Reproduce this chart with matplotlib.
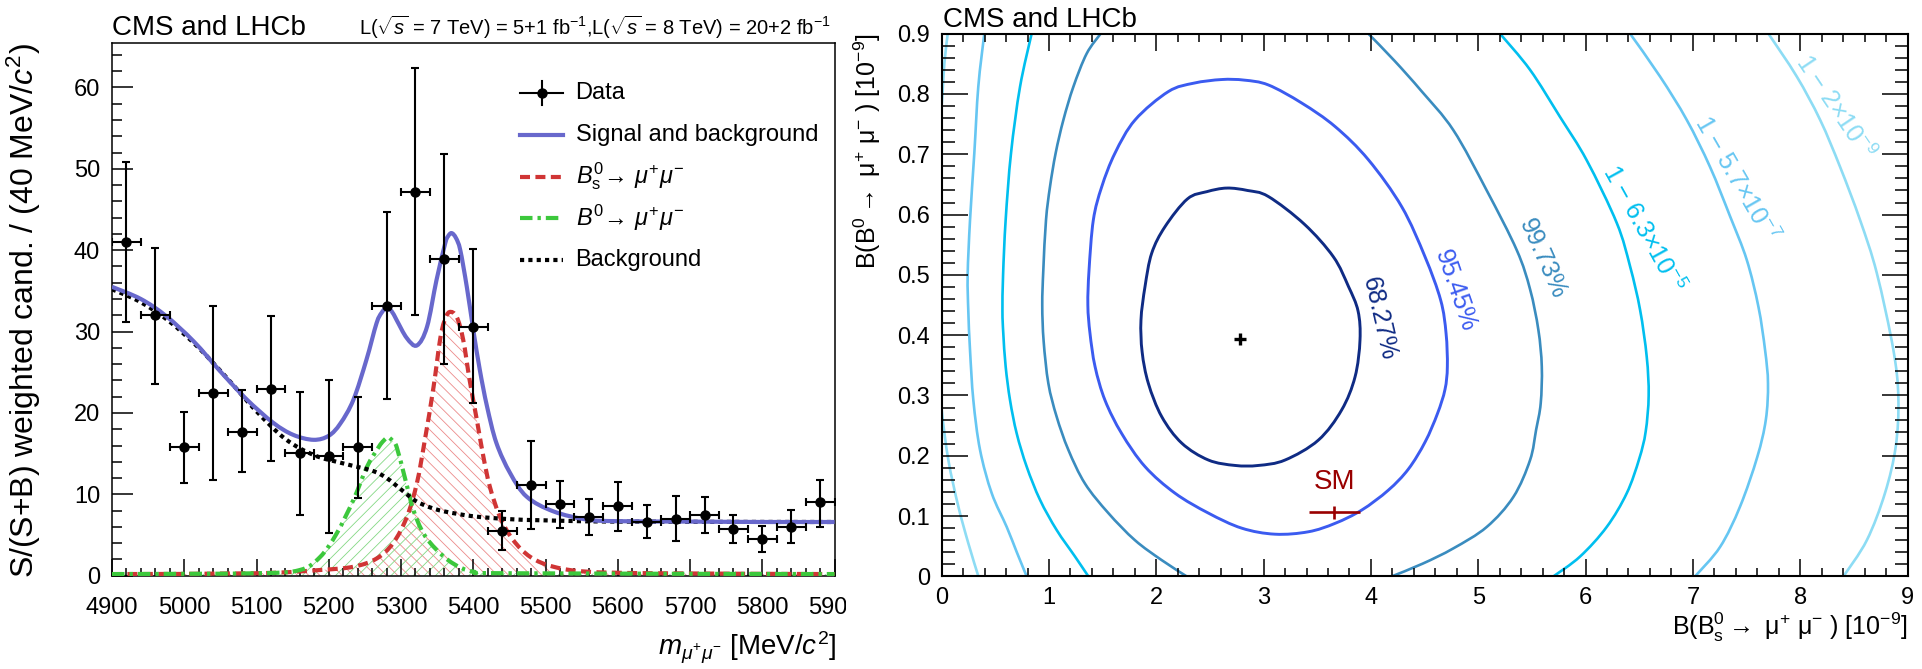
import matplotlib
matplotlib.use("Agg")
import matplotlib.pyplot as plt
from matplotlib.ticker import MultipleLocator
from matplotlib.transforms import Bbox, TransformedBbox
from matplotlib.path import Path
from matplotlib.patches import PathPatch

plt.rcParams['font.family'] = ['Liberation Sans', 'DejaVu Sans']
plt.rcParams['mathtext.fontset'] = 'custom'
plt.rcParams['mathtext.rm'] = 'Liberation Sans'
plt.rcParams['mathtext.it'] = 'Liberation Sans:italic'
plt.rcParams['mathtext.bf'] = 'Liberation Sans:bold'
plt.rcParams['mathtext.sf'] = 'Liberation Sans'
plt.rcParams['hatch.linewidth'] = 0.6

# ---------------- left panel: mass distribution ----------------
mass_bins = [4920, 4960, 5000, 5040, 5080, 5120, 5160, 5200, 5240, 5280, 5320, 5360, 5400,
             5440, 5480, 5520, 5560, 5600, 5640, 5680, 5720, 5760, 5800, 5840, 5880]
counts = [41.0, 32.0, 15.8, 22.4, 17.7, 23.0, 15.1, 14.7, 15.8, 33.2, 47.1, 38.9, 30.6,
          5.5, 11.1, 8.8, 7.2, 8.6, 6.6, 7.0, 7.5, 5.7, 4.5, 6.0, 9.0]
err_up = [9.9, 8.3, 4.3, 10.7, 5.1, 8.9, 7.5, 9.4, 6.1, 11.5, 15.3, 12.9, 9.5,
          2.4, 5.4, 2.8, 2.2, 2.9, 2.1, 2.8, 2.2, 1.8, 1.6, 2.1, 2.8]
err_dn = [9.8, 8.4, 4.4, 10.7, 5.0, 8.9, 7.6, 9.4, 6.2, 11.5, 15.1, 12.9, 9.4,
          2.4, 5.3, 2.9, 2.2, 3.1, 2.0, 2.7, 2.3, 1.7, 1.6, 2.0, 3.0]
bin_half_width = 20

total_x = [4900, 4940, 4975, 5013, 5050, 5086, 5123, 5151, 5179, 5200, 5216, 5234, 5252,
           5266, 5273, 5280, 5287, 5294, 5308, 5322, 5336, 5349, 5361, 5365, 5370, 5376,
           5382, 5391, 5400, 5409, 5419, 5432, 5451, 5474, 5511, 5557, 5600, 5700, 5800, 5900]
total_y = [35.5, 34.0, 31.9, 28.8, 25.1, 21.7, 18.8, 17.3, 16.7, 17.2, 18.7, 21.6, 26.5,
           31.0, 32.3, 32.9, 32.5, 31.4, 29.2, 28.3, 30.6, 36.3, 40.8, 41.7, 42.1, 41.5,
           40.0, 35.5, 30.2, 25.3, 20.8, 16.3, 12.6, 9.7, 7.9, 6.9, 6.7, 6.65, 6.6, 6.6]

bs_x = [4900, 5100, 5188, 5234, 5266, 5289, 5308, 5322, 5333, 5345, 5354, 5360, 5367,
        5377, 5386, 5395, 5405, 5414, 5423, 5437, 5455, 5479, 5511, 5557, 5650, 5900]
bs_y = [0.2, 0.3, 0.7, 1.1, 2.1, 4.0, 7.2, 11.4, 16.7, 23.2, 29.0, 31.3, 32.4,
        31.8, 29.0, 24.0, 19.1, 14.6, 10.9, 7.2, 4.4, 2.3, 1.1, 0.5, 0.3, 0.2]

bd_x = [4900, 5100, 5160, 5188, 5211, 5234, 5253, 5269, 5276, 5282, 5288, 5294, 5306,
        5317, 5331, 5349, 5372, 5400, 5450, 5900]
bd_y = [0.2, 0.3, 0.7, 2.3, 5.2, 9.3, 13.4, 15.8, 16.6, 17.0, 16.6, 15.8, 11.8,
        8.1, 5.2, 3.2, 1.5, 0.5, 0.3, 0.2]

bkg_x = [4900, 4940, 4980, 5020, 5060, 5100, 5140, 5180, 5220, 5260, 5280, 5300, 5320,
         5340, 5360, 5400, 5450, 5500, 5600, 5900]
bkg_y = [35.2, 33.6, 31.2, 28.0, 24.2, 20.2, 16.8, 14.8, 13.8, 12.9, 12.0, 10.6, 9.2,
         8.4, 7.9, 7.3, 6.95, 6.8, 6.65, 6.6]

mass_ticks = [4900, 5000, 5100, 5200, 5300, 5400, 5500, 5600, 5700, 5800, 5900]

legend_labels = ["Data", "Signal and background", r"$B^0_{\rm s}\!\rightarrow\,\mu^{+}\mu^{-}$",
                 r"$B^0\!\rightarrow\,\mu^{+}\mu^{-}$", "Background"]

# ---------------- right panel: likelihood contours ----------------
c68_bs = [2.656, 2.470, 2.290, 2.081, 1.957, 1.895, 1.857, 1.868, 1.926, 2.050, 2.237,
          2.485, 2.734, 2.951, 3.200, 3.510, 3.727, 3.852, 3.898, 3.880, 3.790, 3.650, 3.380,
          3.044, 2.850, 2.656]
c68_b0 = [0.644, 0.638, 0.626, 0.580, 0.536, 0.481, 0.425, 0.372, 0.320, 0.265, 0.221,
          0.193, 0.184, 0.184, 0.193, 0.226, 0.276, 0.331, 0.392, 0.440, 0.481, 0.530, 0.584,
          0.630, 0.640, 0.644]

c95_bs = [2.609, 2.350, 2.112, 1.802, 1.615, 1.491, 1.413, 1.373, 1.362, 1.382, 1.429, 1.522,
          1.677, 1.895, 2.174, 2.485, 2.796, 3.106, 3.417, 3.666, 3.914, 4.162, 4.349, 4.505,
          4.620, 4.690, 4.712, 4.700, 4.650, 4.504, 4.287, 3.976, 3.666, 3.355, 3.044, 2.820,
          2.609]
c95_b0 = [0.824, 0.818, 0.804, 0.757, 0.702, 0.646, 0.591, 0.508, 0.450, 0.403, 0.348, 0.292,
          0.237, 0.182, 0.138, 0.105, 0.080, 0.070, 0.074, 0.088, 0.110, 0.143, 0.178, 0.223,
          0.270, 0.310, 0.348, 0.403, 0.458, 0.530, 0.613, 0.691, 0.746, 0.785, 0.815, 0.823,
          0.824]

c997_left_bs = [1.481, 1.351, 1.227, 1.134, 1.062, 1.009, 0.972, 0.947, 0.937, 0.950, 0.994,
                1.071, 1.180, 1.335, 1.553, 1.801, 2.050, 2.283]
c997_left_b0 = [0.900, 0.867, 0.812, 0.757, 0.702, 0.646, 0.591, 0.508, 0.450, 0.390, 0.320,
                0.265, 0.210, 0.154, 0.105, 0.060, 0.027, 0.000]
c997_right_bs = [3.976, 4.220, 4.470, 4.768, 5.079, 5.359, 5.483, 5.560, 5.592, 5.582,
                 5.539, 5.483, 5.328, 5.079, 4.768, 4.480, 4.193]
c997_right_b0 = [0.900, 0.855, 0.805, 0.740, 0.640, 0.541, 0.476, 0.409, 0.348, 0.287,
                 0.243, 0.193, 0.132, 0.082, 0.0465, 0.021, 0.000]

c5s_left_bs = [0.838, 0.730, 0.646, 0.596, 0.572, 0.566, 0.574, 0.596, 0.637, 0.699, 0.792,
               0.916, 1.071, 1.242, 1.367]
c5s_left_b0 = [0.900, 0.812, 0.702, 0.591, 0.500, 0.440, 0.403, 0.348, 0.292, 0.237, 0.182,
               0.127, 0.077, 0.033, 0.000]
c5s_right_bs = [5.203, 5.483, 5.762, 6.011, 6.291, 6.415, 6.508, 6.570, 6.588, 6.560,
                6.500, 6.384, 6.197, 5.949, 5.700]
c5s_right_b0 = [0.900, 0.840, 0.762, 0.690, 0.586, 0.514, 0.442, 0.364, 0.300, 0.240,
                0.195, 0.138, 0.082, 0.033, 0.000]

c6s_left_bs = [0.397, 0.341, 0.304, 0.264, 0.242, 0.248, 0.264, 0.295, 0.357, 0.466, 0.606,
               0.700, 0.792]
c6s_left_b0 = [0.900, 0.812, 0.702, 0.591, 0.500, 0.440, 0.375, 0.292, 0.210, 0.138, 0.082,
               0.040, 0.000]
c6s_right_bs = [6.415, 6.694, 6.943, 7.160, 7.347, 7.502, 7.611, 7.673, 7.700, 7.680,
                7.600, 7.440, 7.254, 7.020]
c6s_right_b0 = [0.900, 0.829, 0.757, 0.679, 0.597, 0.525, 0.447, 0.375, 0.320, 0.260,
                0.198, 0.116, 0.049, 0.000]

c7s_left_bs = [0.056, 0.025, 0.006, -0.030, -0.040, -0.030, 0.000, 0.062, 0.155, 0.248, 0.342]
c7s_left_b0 = [0.900, 0.851, 0.796, 0.700, 0.500, 0.350, 0.276, 0.193, 0.116, 0.055, 0.000]
c7s_right_bs = [7.704, 7.968, 8.186, 8.372, 8.558, 8.714, 8.869, 8.915, 8.890, 8.790,
                8.621, 8.403]
c7s_right_b0 = [0.900, 0.829, 0.757, 0.679, 0.591, 0.503, 0.375, 0.295, 0.215, 0.138,
                0.060, 0.000]

contour_labels = ["68.27%", "95.45%", "99.73%", "1 − 6.3×10$^{-5}$", "1 − 5.7×10$^{-7}$",
                  "1 − 2×10$^{-9}$"]
label_pos_bs = [4.08, 4.79, 5.60, 6.54, 7.40, 8.325]
label_pos_b0 = [0.427, 0.474, 0.526, 0.577, 0.660, 0.779]
label_angle = [-77, -71, -66, -61, -60, -56]

bestfit_bs = [2.78]
bestfit_b0 = [0.393]
sm_bs = [3.66]
sm_b0 = [0.106]
sm_bs_err = [0.24]
sm_b0_err = [0.010]

c_68 = '#0f2b84'
c_95 = '#3b5bf0'
c_997 = '#3a8cbf'
c_5s = '#00bfef'
c_6s = '#66c6f2'
c_7s = '#8ddcf4'


def smooth_path(xs, ys, base=None):
    """Smooth (Catmull-Rom as cubic Bezier) path through the read-off points."""
    pts = list(zip(xs, ys))
    n = len(pts)
    closed = pts[0] == pts[-1]
    verts = [pts[0]]
    codes = [Path.MOVETO]
    for i in range(n - 1):
        if i > 0:
            p0 = pts[i - 1]
        else:
            p0 = pts[-2] if closed else pts[0]
        p1, p2 = pts[i], pts[i + 1]
        if i + 2 < n:
            p3 = pts[i + 2]
        else:
            p3 = pts[1] if closed else pts[-1]
        c1 = (p1[0] + (p2[0] - p0[0]) / 6.0, p1[1] + (p2[1] - p0[1]) / 6.0)
        c2 = (p2[0] - (p3[0] - p1[0]) / 6.0, p2[1] - (p3[1] - p1[1]) / 6.0)
        verts += [c1, c2, p2]
        codes += [Path.CURVE4] * 3
    if base is not None:
        verts += [(pts[-1][0], base), (pts[0][0], base), (pts[0][0], base)]
        codes += [Path.LINETO, Path.LINETO, Path.CLOSEPOLY]
    return Path(verts, codes)


def curve(ax, xs, ys, **kw):
    patch = PathPatch(smooth_path(xs, ys), facecolor='none', **kw)
    ax.add_patch(patch)
    return patch


def hatch_area(ax, xs, ys, color, hatch):
    patch = PathPatch(smooth_path(xs, ys, base=0.0), facecolor='none', edgecolor=color,
                      hatch=hatch, linewidth=0, zorder=1)
    ax.add_patch(patch)


# ---------------- figure ----------------
W, H = 1922, 669
fig = plt.figure(figsize=(W / 100, H / 100), dpi=100)
fig.patch.set_facecolor('white')

ax1 = fig.add_axes([112 / W, (H - 575.7) / H, 722.6 / W, 533 / H])
ax2 = fig.add_axes([941.7 / W, (H - 576.4) / H, 965.8 / W, 542.7 / H])

# ---- left panel ----
col_tot, col_bs, col_bd, col_bkg = '#6868cc', '#d03535', '#3cc83c', 'black'
dash_bs, dash_bd, dash_bkg = (2.4, 1.3), (3.0, 1.2, 0.8, 1.2), (1, 1)

hatch_area(ax1, bs_x, bs_y, '#ec8a8a', '\\\\\\')
hatch_area(ax1, bd_x, bd_y, '#84d884', '///')
curve(ax1, bs_x, bs_y, edgecolor=col_bs, lw=3, linestyle=(0, dash_bs), zorder=3)
curve(ax1, bd_x, bd_y, edgecolor=col_bd, lw=3, linestyle=(0, dash_bd), zorder=3)
curve(ax1, bkg_x, bkg_y, edgecolor=col_bkg, lw=3, linestyle=(0, dash_bkg), zorder=3)
curve(ax1, total_x, total_y, edgecolor=col_tot, lw=3, zorder=4)
ax1.errorbar(mass_bins, counts, xerr=bin_half_width, yerr=[err_dn, err_up], fmt='o',
             color='black', ms=6.5, elinewidth=1.5, capsize=3, capthick=1.5, zorder=5)

ax1.set_xlim(4900, 5900)
ax1.set_ylim(0, 65.5)
ax1.set_xticks(mass_ticks)
ax1.xaxis.set_minor_locator(MultipleLocator(20))
ax1.yaxis.set_major_locator(MultipleLocator(10))
ax1.yaxis.set_minor_locator(MultipleLocator(2))
ax1.tick_params(which='both', direction='in', top=False, right=False, width=1.1)
ax1.tick_params(axis='x', which='major', length=12.5, pad=15, labelsize=17)
ax1.tick_params(axis='x', which='minor', length=6)
ax1.tick_params(axis='y', which='major', length=15, pad=8.6, labelsize=17)
ax1.tick_params(axis='y', which='minor', length=7.2)
for s in ax1.spines.values():
    s.set_linewidth(1.1)

ax1.text(0.0, 1.0144, 'CMS and LHCb', transform=ax1.transAxes, fontsize=20,
         ha='left', va='baseline')
ax1.text(0.995, 1.0144,
         r'L($\sqrt{s}$ = 7 TeV) = 5+1 fb$^{-1}$,L($\sqrt{s}$ = 8 TeV) = 20+2 fb$^{-1}$',
         transform=ax1.transAxes, fontsize=14.5, ha='right', va='baseline')
ax1.text(-0.0955, 1.0, r'S/(S+B) weighted cand. / (40 MeV/$c^{2}$)', transform=ax1.transAxes,
         rotation=90, ha='right', va='top', fontsize=23)
ax1.text(1.0019, -0.1488, r'$m_{\mu^{+}\mu^{-}}$ [MeV/$c^{2}$]', transform=ax1.transAxes,
         ha='right', va='baseline', fontsize=20)

# legend (drawn by hand to keep ROOT-like even spacing)
lx0, lx1, ltx = 0.5653, 0.6247, 0.6416
ly0, ldy = 0.9051, 0.0782
legend_styles = [None, (col_tot, None), (col_bs, dash_bs), (col_bd, dash_bd),
                 (col_bkg, dash_bkg)]
for i, lab in enumerate(legend_labels):
    yy = ly0 - i * ldy
    if i == 0:
        xc = 0.5 * (lx0 + lx1)
        ax1.plot([lx0, lx1], [yy, yy], color='black', lw=1.5, transform=ax1.transAxes,
                 clip_on=False)
        ax1.plot([xc, xc], [yy - 0.0225, yy + 0.0225], color='black', lw=1.5,
                 transform=ax1.transAxes, clip_on=False)
        ax1.plot([xc], [yy], 'o', color='black', ms=6.5, transform=ax1.transAxes, clip_on=False)
    else:
        col, dsh = legend_styles[i]
        ln, = ax1.plot([lx0, lx1], [yy, yy], color=col, lw=3, transform=ax1.transAxes,
                       clip_on=False)
        if dsh is not None:
            ln.set_dashes(dsh)
    ax1.text(ltx, yy, lab, transform=ax1.transAxes, fontsize=17, ha='left', va='center')

# ---- right panel ----
lw_c = 1.9
curve(ax2, c7s_left_bs, c7s_left_b0, edgecolor=c_7s, lw=lw_c)
curve(ax2, c7s_right_bs, c7s_right_b0, edgecolor=c_7s, lw=lw_c)
curve(ax2, c6s_left_bs, c6s_left_b0, edgecolor=c_6s, lw=lw_c)
curve(ax2, c6s_right_bs, c6s_right_b0, edgecolor=c_6s, lw=lw_c)
curve(ax2, c5s_left_bs, c5s_left_b0, edgecolor=c_5s, lw=lw_c)
curve(ax2, c5s_right_bs, c5s_right_b0, edgecolor=c_5s, lw=lw_c)
curve(ax2, c997_left_bs, c997_left_b0, edgecolor=c_997, lw=lw_c)
curve(ax2, c997_right_bs, c997_right_b0, edgecolor=c_997, lw=lw_c)
curve(ax2, c95_bs, c95_b0, edgecolor=c_95, lw=2.1)
curve(ax2, c68_bs, c68_b0, edgecolor=c_68, lw=2.1)

label_colors = [c_68, c_95, c_997, c_5s, c_6s, c_7s]
for lab, xb, yb, ang, col in zip(contour_labels, label_pos_bs, label_pos_b0, label_angle,
                                 label_colors):
    ax2.text(xb, yb, lab, color=col, fontsize=18, rotation=ang, rotation_mode='anchor',
             ha='center', va='center')

ax2.plot(bestfit_bs, bestfit_b0, '+', color='black', ms=9, mew=2.4, zorder=6)
ax2.errorbar(sm_bs, sm_b0, xerr=sm_bs_err, yerr=sm_b0_err, fmt='none', ecolor='#990000',
             elinewidth=1.9, capsize=0, zorder=6)
ax2.annotate('SM', (sm_bs[0], sm_b0[0]), xytext=(0, 22), textcoords='offset points',
             ha='center', va='center', fontsize=20, color='#990000')

ax2.set_xlim(0, 9)
ax2.set_ylim(0, 0.9)
ax2.xaxis.set_major_locator(MultipleLocator(1))
ax2.xaxis.set_minor_locator(MultipleLocator(0.2))
ax2.yaxis.set_major_locator(MultipleLocator(0.1))
ax2.yaxis.set_minor_locator(MultipleLocator(0.02))
ax2.yaxis.set_major_formatter(plt.FuncFormatter(lambda v, p: '0' if abs(v) < 1e-9 else f'{v:.1f}'))
ax2.tick_params(which='both', direction='in', top=True, right=True, width=1.1)
ax2.tick_params(axis='x', which='major', length=12.5, pad=7.4, labelsize=17)
ax2.tick_params(axis='x', which='minor', length=6)
ax2.tick_params(axis='y', which='major', length=19, pad=8.4, labelsize=17)
ax2.tick_params(axis='y', which='minor', length=9.7)
for s in ax2.spines.values():
    s.set_linewidth(1.5)

ax2.text(0.001, 1.0129, 'CMS and LHCb', transform=ax2.transAxes, fontsize=20,
         ha='left', va='baseline')
ax2.text(-0.0608, 1.0, r'B(B$^{0}$$\rightarrow$ μ$^{+}$ μ$^{-}$ ) [10$^{-9}$]',
         transform=ax2.transAxes, rotation=90, ha='right', va='top', fontsize=18)
ax2.text(1.0, -0.108, r'B(B$^{0}_{\rm s}$$\rightarrow$ μ$^{+}$ μ$^{-}$ ) [10$^{-9}$]',
         transform=ax2.transAxes, ha='right', va='baseline', fontsize=18)

# clip the left panel's last tick label like in the original composite
fig.canvas.draw()
clip = TransformedBbox(Bbox.from_extents(0, 0, 846 / W, 1), fig.transFigure)
for lbl in ax1.get_xticklabels():
    lbl.set_clip_box(clip)
    lbl.set_clip_on(True)

fig.savefig('out.png', dpi=100)
